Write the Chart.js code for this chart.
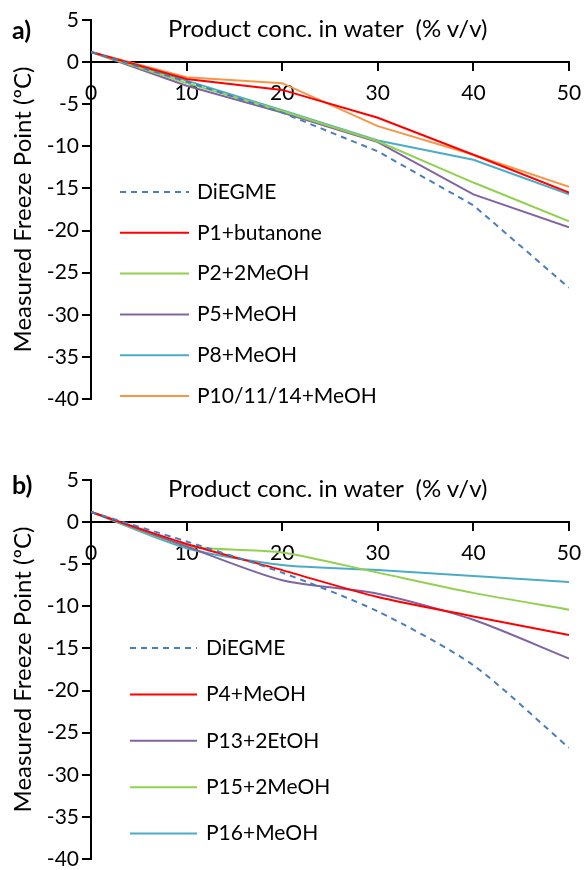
<!DOCTYPE html>
<html>
<head>
<meta charset="utf-8">
<script src="https://cdn.jsdelivr.net/npm/chart.js@4/dist/chart.umd.min.js"></script>
<style>
  body { margin: 0; width: 587px; height: 870px; position: relative; background: #fff; overflow: hidden; font-family: Lato, "Open Sans", sans-serif; }
  canvas { position: absolute; left: 0; }
  .tag { position: absolute; left: 12px; font-size: 25px; font-weight: bold; line-height: 25px; }
  .ttl { position: absolute; left: 168px; font-size: 24px; line-height: 24px; white-space: pre; }
</style>
</head>
<body>
<canvas id="chartA" width="587" height="435" style="top:0"></canvas>
<canvas id="chartB" width="587" height="440" style="top:430px"></canvas>
<div class="tag" style="top:17px">a)</div>
<div class="tag" style="top:472px">b)</div>
<div class="ttl" style="top:16px">Product conc. in water  (% v/v)</div>
<div class="ttl" style="top:476px">Product conc. in water  (% v/v)</div>
<script>
'use strict';
// x positions (% v/v) shared by every series
let concs = [0, 10, 20, 30, 40, 50];
let yTicks = [5, 0, -5, -10, -15, -20, -25, -30, -35, -40];

// panel a
let diegme = [1.2, -2.3, -6.0, -10.6, -17.0, -26.8];
let p1Butanone = [1.2, -2.0, -3.3, -6.6, -11.0, -15.5];
let p2MeOH = [1.2, -2.5, -5.8, -9.4, -14.3, -18.9];
let p5MeOH = [1.2, -2.8, -6.0, -9.5, -15.7, -19.6];
let p8MeOH = [1.2, -2.2, -5.7, -9.3, -11.6, -15.7];
let p10MeOH = [1.2, -1.8, -2.5, -7.6, -11.0, -14.8];

// panel b
let p4MeOH = [1.2, -2.6, -5.7, -8.9, -11.2, -13.4];
let p13EtOH = [1.2, -2.9, -6.9, -8.5, -11.6, -16.2];
let p15MeOH = [1.2, -2.8, -3.6, -6.0, -8.4, -10.4];
let p16MeOH = [1.2, -3.1, -5.1, -5.7, -6.4, -7.1];

let blue = '#4a7ebb', red = '#ff0000', green = '#92d050', purple = '#8064a2', cyan = '#4bacc6', orange = '#f79646';

function pts(vals) {
  return vals.map((v, i) => ({x: concs[i], y: v}));
}

function series(label, vals, color, dashed) {
  return {
    label: label,
    data: pts(vals),
    borderColor: color,
    backgroundColor: color,
    borderWidth: 2,
    borderDash: dashed ? [6, 5] : [],
    pointRadius: 0,
    fill: false
  };
}

// legend drawn inside the plot area, like the excel one
const insideLegend = {
  id: 'insideLegend',
  afterDatasetsDraw(chart, args, o) {
    const ctx = chart.ctx;
    ctx.save();
    ctx.font = '21px Lato';
    ctx.textBaseline = 'middle';
    ctx.fillStyle = '#000';
    chart.data.datasets.forEach((ds, i) => {
      let y = o.top + i * o.gap;
      ctx.strokeStyle = ds.borderColor;
      ctx.lineWidth = 2;
      ctx.setLineDash(ds.borderDash);
      ctx.beginPath();
      ctx.moveTo(o.x1, y);
      ctx.lineTo(o.x2, y);
      ctx.stroke();
      ctx.setLineDash([]);
      ctx.fillText(ds.label, o.tx, y);
    });
    ctx.restore();
  }
};

function makeChart(id, datasets, tension, padTop, padBottom, leg) {
  let font = {family: 'Lato', size: 21};
  return new Chart(document.getElementById(id), {
    type: 'line',
    data: {datasets: datasets},
    plugins: [insideLegend],
    options: {
      responsive: false,
      animation: false,
      elements: {line: {tension: tension}},
      layout: {padding: {left: 0, right: 18, top: padTop, bottom: padBottom}},
      plugins: {
        legend: {display: false},
        tooltip: {enabled: false},
        insideLegend: leg
      },
      scales: {
        x: {
          type: 'linear',
          min: 0, max: 50,
          position: {y: 0},
          ticks: {stepSize: 10, color: '#000', font: font, padding: 11, maxRotation: 0},
          grid: {drawOnChartArea: false, drawTicks: true, tickLength: 8, color: '#000', lineWidth: 2},
          border: {color: '#000', width: 2},
          afterFit: s => { s.paddingLeft = 0; s.paddingRight = 0; }
        },
        y: {
          min: -40, max: 5,
          afterBuildTicks: s => { s.ticks = yTicks.map(v => ({value: v})); },
          ticks: {color: '#000', font: font, padding: 3},
          grid: {drawOnChartArea: false, drawTicks: true, tickLength: 9, color: '#000', lineWidth: 2},
          border: {color: '#000', width: 2},
          title: {display: true, text: 'Measured Freeze Point (ºC)', color: '#000', font: {family: 'Lato', size: 24}, padding: {top: 9}},
          afterFit: s => { s.width = 91; s.paddingTop = 0; s.paddingBottom = 0; }
        }
      }
    }
  });
}

makeChart('chartA', [
  series('DiEGME', diegme, blue, true),
  series('P1+butanone', p1Butanone, red),
  series('P2+2MeOH', p2MeOH, green),
  series('P5+MeOH', p5MeOH, purple),
  series('P8+MeOH', p8MeOH, cyan),
  series('P10/11/14+MeOH', p10MeOH, orange)
], 0, 20, 36, {x1: 120, x2: 189, tx: 197, top: 192, gap: 40.8});

makeChart('chartB', [
  series('DiEGME', diegme, blue, true),
  series('P4+MeOH', p4MeOH, red),
  series('P13+2EtOH', p13EtOH, purple),
  series('P15+2MeOH', p15MeOH, green),
  series('P16+MeOH', p16MeOH, cyan)
], 0.25, 50, 11, {x1: 130, x2: 197, tx: 206, top: 218, gap: 46.4});
</script>
</body>
</html>
